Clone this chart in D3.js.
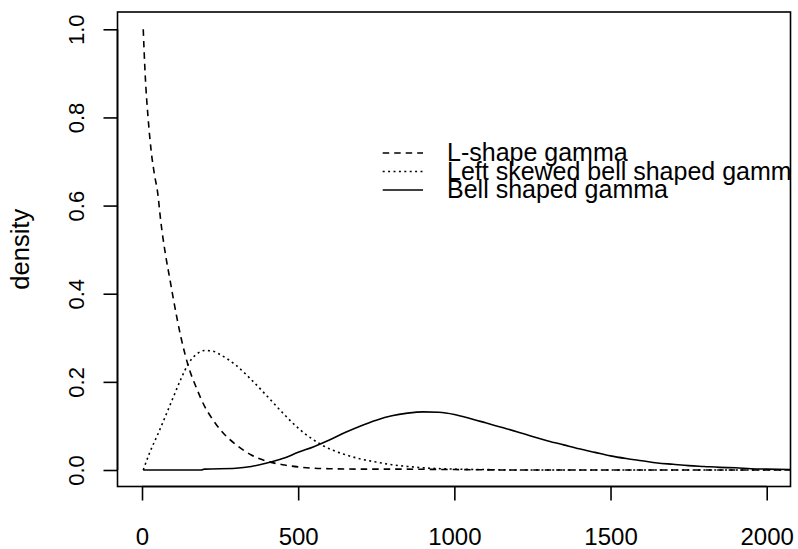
<!DOCTYPE html>
<html><head><meta charset="utf-8">
<script src="https://cdn.jsdelivr.net/npm/d3@7"></script>
<style>html,body{margin:0;padding:0;background:#fff;}svg{display:block;}text{font-family:"Liberation Sans",Arial,Helvetica,sans-serif;fill:#000;}</style>
</head><body><svg id="c" width="798" height="549"></svg>
<script>
// ---- data ----
const xTicks = [0, 500, 1000, 1500, 2000];
const yTicks = [0.0, 0.2, 0.4, 0.6, 0.8, 1.0];
const yTickLabels = ["0.0", "0.2", "0.4", "0.6", "0.8", "1.0"];
const seriesNames = ["L-shape gamma", "Left skewed bell shaped gamma", "Bell shaped gamma"];

const lShapeX = [4, 10, 20, 30, 40, 50, 60, 75, 90, 100, 125, 150, 175, 200, 225, 250, 275, 300, 350, 400, 450, 500, 550, 600, 700, 800, 1000, 1200, 1600, 2000, 2100];
const lShapeY = [1.0, 0.9, 0.795, 0.72, 0.67, 0.63, 0.565, 0.49, 0.43, 0.39, 0.30, 0.232, 0.185, 0.145, 0.116, 0.092, 0.073, 0.058, 0.034, 0.02, 0.012, 0.007, 0.004, 0.003, 0.002, 0.002, 0.001, 0.0, 0.0, 0.0, 0.0];

const leftSkewX = [4, 25, 50, 75, 100, 125, 150, 175, 200, 225, 250, 300, 350, 400, 450, 500, 550, 600, 650, 700, 750, 800, 850, 900, 1000, 1100, 1200, 1600, 2000, 2100];
const leftSkewY = [0.0, 0.04, 0.08, 0.122, 0.165, 0.207, 0.243, 0.263, 0.271, 0.27, 0.262, 0.238, 0.205, 0.168, 0.13, 0.095, 0.068, 0.048, 0.035, 0.025, 0.018, 0.012, 0.008, 0.005, 0.002, 0.001, 0.0, 0.0, 0.0, 0.0];

const bellX = [4, 190, 200, 300, 350, 400, 450, 500, 550, 600, 650, 700, 750, 800, 850, 900, 950, 1000, 1050, 1100, 1150, 1200, 1250, 1300, 1350, 1400, 1450, 1500, 1550, 1600, 1650, 1700, 1750, 1800, 1850, 1900, 1950, 2000, 2100];
const bellY = [0.0, 0.0, 0.002, 0.004, 0.008, 0.016, 0.026, 0.04, 0.053, 0.068, 0.085, 0.1, 0.113, 0.123, 0.129, 0.132, 0.131, 0.126, 0.117, 0.107, 0.097, 0.087, 0.076, 0.066, 0.057, 0.048, 0.04, 0.032, 0.026, 0.021, 0.016, 0.013, 0.01, 0.008, 0.006, 0.005, 0.003, 0.002, 0.001];

// ---- layout ----
const svg = d3.select("#c");
const box = {l: 117.5, r: 790.5, t: 12, b: 486.5};
const x = d3.scaleLinear().domain([0, 2000]).range([142, 766.7]);
const y = d3.scaleLinear().domain([0, 1]).range([470, 29.3]);
const lw = 1.6;

svg.append("clipPath").attr("id", "plotclip").append("rect")
  .attr("x", box.l).attr("y", box.t).attr("width", box.r - box.l).attr("height", box.b - box.t);

const plot = svg.append("g").attr("clip-path", "url(#plotclip)");
const line = d3.line().x(d => x(d[0])).y(d => y(d[1])).curve(d3.curveMonotoneX);
const styles = [
  {dash: "6.5,5", xs: lShapeX, ys: lShapeY},
  {dash: "2,3.4", xs: leftSkewX, ys: leftSkewY},
  {dash: null, xs: bellX, ys: bellY}
];
styles.forEach(s => {
  const pts = s.xs.map((v, i) => [v, s.ys[i]]);
  const p = plot.append("path").datum(pts).attr("d", line)
    .attr("fill", "none").attr("stroke", "#000").attr("stroke-width", lw);
  if (s.dash) p.attr("stroke-dasharray", s.dash);
});

// legend (no box), clipped to plot region
const legX1 = 382.7, legX2 = 423, legTextX = 447, legY0 = 153, legDy = 18.5;
seriesNames.forEach((name, i) => {
  const yy = legY0 + i * legDy;
  const l = plot.append("line").attr("x1", legX1).attr("x2", legX2).attr("y1", yy).attr("y2", yy)
    .attr("stroke", "#000").attr("stroke-width", lw);
  if (styles[i].dash) l.attr("stroke-dasharray", styles[i].dash);
  plot.append("text").attr("x", legTextX).attr("y", yy).attr("dy", "0.33em")
    .attr("font-size", 25).text(name);
});

// box
svg.append("rect").attr("x", box.l).attr("y", box.t).attr("width", box.r - box.l).attr("height", box.b - box.t)
  .attr("fill", "none").attr("stroke", "#000").attr("stroke-width", lw);

// x axis
const xa = svg.append("g").attr("transform", `translate(0,${box.b})`)
  .call(d3.axisBottom(x).tickValues(xTicks).tickSize(14).tickPadding(6).tickSizeOuter(0).tickFormat(d3.format("d")));
xa.select(".domain").attr("d", `M${x(xTicks[0])},0H${x(xTicks[xTicks.length-1])}`).attr("stroke-width", lw);
xa.selectAll(".tick line").attr("stroke-width", lw);
xa.selectAll(".tick text").attr("font-size", 24).attr("font-family", "Liberation Sans, Arial, sans-serif")
  .attr("y", 0).attr("dy", 0).attr("transform", "translate(0,58.5)");

// y axis
const ya = svg.append("g").attr("transform", `translate(${box.l},0)`)
  .call(d3.axisLeft(y).tickValues(yTicks).tickSize(14).tickSizeOuter(0).tickFormat((d, i) => yTickLabels[i]));
ya.select(".domain").attr("d", `M0,${y(0)}V${y(1)}`).attr("stroke-width", lw);
ya.selectAll(".tick line").attr("stroke-width", lw);
ya.selectAll(".tick text").attr("font-size", 22).attr("font-family", "Liberation Sans, Arial, sans-serif")
  .attr("x", 0).attr("dy", 0).attr("text-anchor", "middle")
  .attr("transform", `translate(${83.5 - box.l},0) rotate(-90)`);

// y label
svg.append("text").attr("transform", `translate(28.5,${(box.t + box.b) / 2}) rotate(-90)`)
  .attr("text-anchor", "middle").attr("font-size", 25.5).text("density");
</script></body></html>
